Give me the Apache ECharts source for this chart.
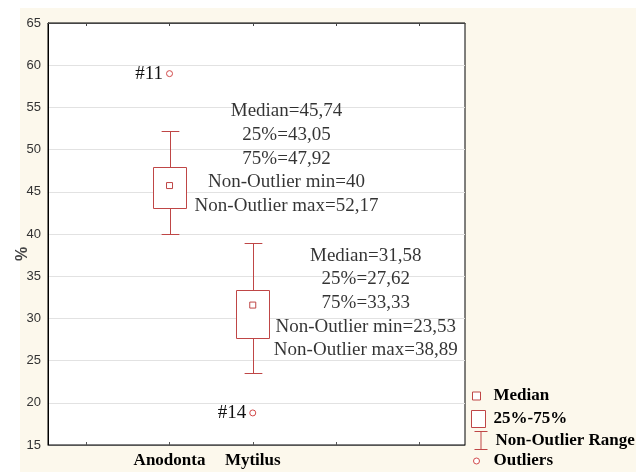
<!DOCTYPE html>
<html>
<head>
<meta charset="utf-8">
<script src="https://cdn.jsdelivr.net/npm/echarts@6/dist/echarts.min.js"></script>
<style>
  html, body { margin: 0; padding: 0; background: #fff; }
  #chart { width: 636px; height: 472px; }
</style>
</head>
<body>
<div id="chart"></div>
<script>
// ---- data ----
const categories = ['Anodonta', 'Mytilus'];
const medians = [45.74, 31.58];
const q1s = [43.05, 27.62];
const q3s = [47.92, 33.33];
const mins = [40, 23.53];
const maxs = [52.17, 38.89];
const outlierValues = [59.0, 18.8];
const outlierLabels = ['#11', '#14'];
const yTicks = [15, 20, 25, 30, 35, 40, 45, 50, 55, 60, 65];

// ---- layout / style constants ----
const RED = '#bf4646';
const OUT_RED = '#d24a4a';
const SERIF = '"Liberation Serif", "Times New Roman", serif';
const SANS = '"Liberation Sans", Arial, sans-serif';
const BOX_W = 0.393;   // box width in x-axis units
const CAP_W = 0.213;   // whisker cap width in x-axis units
const noteOffsets = [[117, -27], [113, -2]];

const fmt = v => String(v).replace('.', ',');
const pos = i => i + 1;

const boxData = categories.map((c, i) => [pos(i), q1s[i], q3s[i]]);
const whiskerData = categories.map((c, i) => [pos(i), mins[i], q1s[i], q3s[i], maxs[i]]);
const medianData = categories.map((c, i) => [pos(i), medians[i]]);
const outlierData = categories.map((c, i) => [pos(i), outlierValues[i], outlierLabels[i]]);
const noteData = categories.map((c, i) => ({
  value: [pos(i), medians[i]],
  label: {
    offset: noteOffsets[i],
    formatter: 'Median=' + fmt(medians[i]) + '\n25%=' + fmt(q1s[i]) + '\n75%=' + fmt(q3s[i]) +
      '\nNon-Outlier min=' + fmt(mins[i]) + '\nNon-Outlier max=' + fmt(maxs[i])
  }
}));

const chart = echarts.init(document.getElementById('chart'));

function legendBox(name, icon, left, top, w, h, pad, itemStyle) {
  return {
    show: true,
    selectedMode: false,
    orient: 'vertical',
    left: left, top: top,
    padding: 0,
    itemWidth: w, itemHeight: h,
    textStyle: { fontFamily: SERIF, fontWeight: 'bold', fontSize: 17, color: '#000', lineHeight: 20, padding: [0, 0, 0, pad] },
    data: [{ name: name, icon: icon, itemStyle: itemStyle }]
  };
}

chart.setOption({
  animation: false,
  backgroundColor: '#fff',
  graphic: [{
    type: 'rect', z: -100, silent: true,
    shape: { x: 20, y: 8, width: 616, height: 464 },
    style: { fill: '#fcf8ec' }
  }],
  grid: {
    left: 48, top: 23, right: 171, bottom: 27,
    outerBoundsMode: 'none',
    show: true, backgroundColor: '#fff', borderColor: '#000', borderWidth: 1,
    containLabel: false
  },
  legend: [
    legendBox('Median', 'path://M0 0H8V8H0Z', 472, 386, 8, 8, 8,
      { color: '#fff', borderColor: RED, borderWidth: 1 }),
    legendBox('25%-75%', 'path://M0 0H14V17H0Z', 471, 409, 14, 17, 3,
      { color: '#fff', borderColor: RED, borderWidth: 1 }),
    legendBox('Non-Outlier Range', 'path://M0 0H13M6.5 0V18M0 18H13', 472, 429, 13, 18, 3,
      { color: 'none', borderColor: RED, borderWidth: 1 }),
    legendBox('Outliers', 'circle', 473, 451, 6, 6, 9,
      { color: '#fff', borderColor: OUT_RED, borderWidth: 1 })
  ],
  xAxis: [{
    type: 'value', min: -0.46, max: 4.55,
    position: 'bottom',
    axisLine: { show: true, onZero: false, lineStyle: { color: '#555', width: 1 } },
    axisTick: { show: true, inside: true, length: 3, customValues: [0, 1, 2, 3, 4], lineStyle: { color: '#555' } },
    axisLabel: {
      show: true, customValues: [1, 2], margin: 7,
      formatter: v => categories[Math.round(v) - 1] || '',
      fontFamily: SERIF, fontWeight: 'bold', fontSize: 17, color: '#000'
    },
    splitLine: { show: false }
  }, {
    type: 'value', min: -0.46, max: 4.55,
    position: 'top',
    axisLine: { show: true, onZero: false, lineStyle: { color: '#444', width: 1 } },
    axisTick: { show: true, inside: true, length: 3, customValues: [0, 1, 2, 3, 4], lineStyle: { color: '#444' } },
    axisLabel: { show: false },
    splitLine: { show: false }
  }],
  yAxis: {
    type: 'value', min: yTicks[0], max: yTicks[yTicks.length - 1], interval: 5,
    name: '%', nameLocation: 'middle', nameRotate: 90, nameGap: 17,
    nameMoveOverlap: false,
    nameTextStyle: { fontFamily: SANS, fontWeight: 'bold', fontSize: 16, color: '#444', padding: [0, 40, 0, 0] },
    axisLine: { show: true, onZero: false, lineStyle: { color: '#000' } },
    axisTick: { show: false },
    axisLabel: { margin: 7, fontFamily: SANS, fontSize: 13, color: '#333' },
    splitLine: { show: true, lineStyle: { color: '#e2e2e2', width: 1 } }
  },
  series: [{
    name: 'Non-Outlier Range',
    type: 'custom',
    data: whiskerData,
    z: 2,
    renderItem: function (params, api) {
      const x = api.value(0);
      const pMin = api.coord([x, api.value(1)]);
      const pQ1 = api.coord([x, api.value(2)]);
      const pQ3 = api.coord([x, api.value(3)]);
      const pMax = api.coord([x, api.value(4)]);
      const half = api.size([CAP_W, 0])[0] / 2;
      const cx = Math.round(pMin[0]) + 0.5;
      const style = { stroke: RED, lineWidth: 1, fill: null };
      return {
        type: 'group',
        children: [
          { type: 'line', shape: { x1: cx, y1: pQ3[1], x2: cx, y2: pMax[1] }, style: style },
          { type: 'line', shape: { x1: cx, y1: pQ1[1], x2: cx, y2: pMin[1] }, style: style },
          { type: 'line', shape: { x1: cx - half, y1: Math.round(pMax[1]) + 0.5, x2: cx + half, y2: Math.round(pMax[1]) + 0.5 }, style: style },
          { type: 'line', shape: { x1: cx - half, y1: Math.round(pMin[1]) + 0.5, x2: cx + half, y2: Math.round(pMin[1]) + 0.5 }, style: style }
        ]
      };
    }
  }, {
    name: '25%-75%',
    type: 'custom',
    data: boxData,
    z: 3,
    renderItem: function (params, api) {
      const x = api.value(0);
      const pQ1 = api.coord([x, api.value(1)]);
      const pQ3 = api.coord([x, api.value(2)]);
      const half = api.size([BOX_W, 0])[0] / 2;
      const x0 = Math.round(pQ1[0] - half) + 0.5;
      const y0 = Math.round(pQ3[1]) + 0.5;
      return {
        type: 'rect',
        shape: { x: x0, y: y0, width: Math.round(half * 2), height: Math.round(pQ1[1]) - Math.round(pQ3[1]) },
        style: { fill: '#fff', stroke: RED, lineWidth: 1 }
      };
    }
  }, {
    name: 'Median',
    type: 'scatter',
    data: medianData,
    z: 4,
    symbol: 'rect', symbolSize: 6,
    itemStyle: { color: '#fff', borderColor: RED, borderWidth: 1, opacity: 1 }
  }, {
    name: 'Outliers',
    type: 'scatter',
    data: outlierData,
    z: 4,
    symbol: 'circle', symbolSize: 6,
    itemStyle: { color: '#fff', borderColor: OUT_RED, borderWidth: 1, opacity: 1 },
    label: {
      show: true, position: 'left', distance: 3,
      formatter: p => p.value[2],
      fontFamily: SERIF, fontSize: 19, color: '#111'
    }
  }, {
    name: 'notes',
    type: 'scatter',
    data: noteData,
    z: 5,
    symbolSize: 0,
    silent: true,
    label: {
      show: true, position: 'inside', align: 'center', verticalAlign: 'middle',
      fontFamily: SERIF, fontSize: 19, lineHeight: 23.6, color: '#000'
    }
  }]
});
</script>
</body>
</html>
